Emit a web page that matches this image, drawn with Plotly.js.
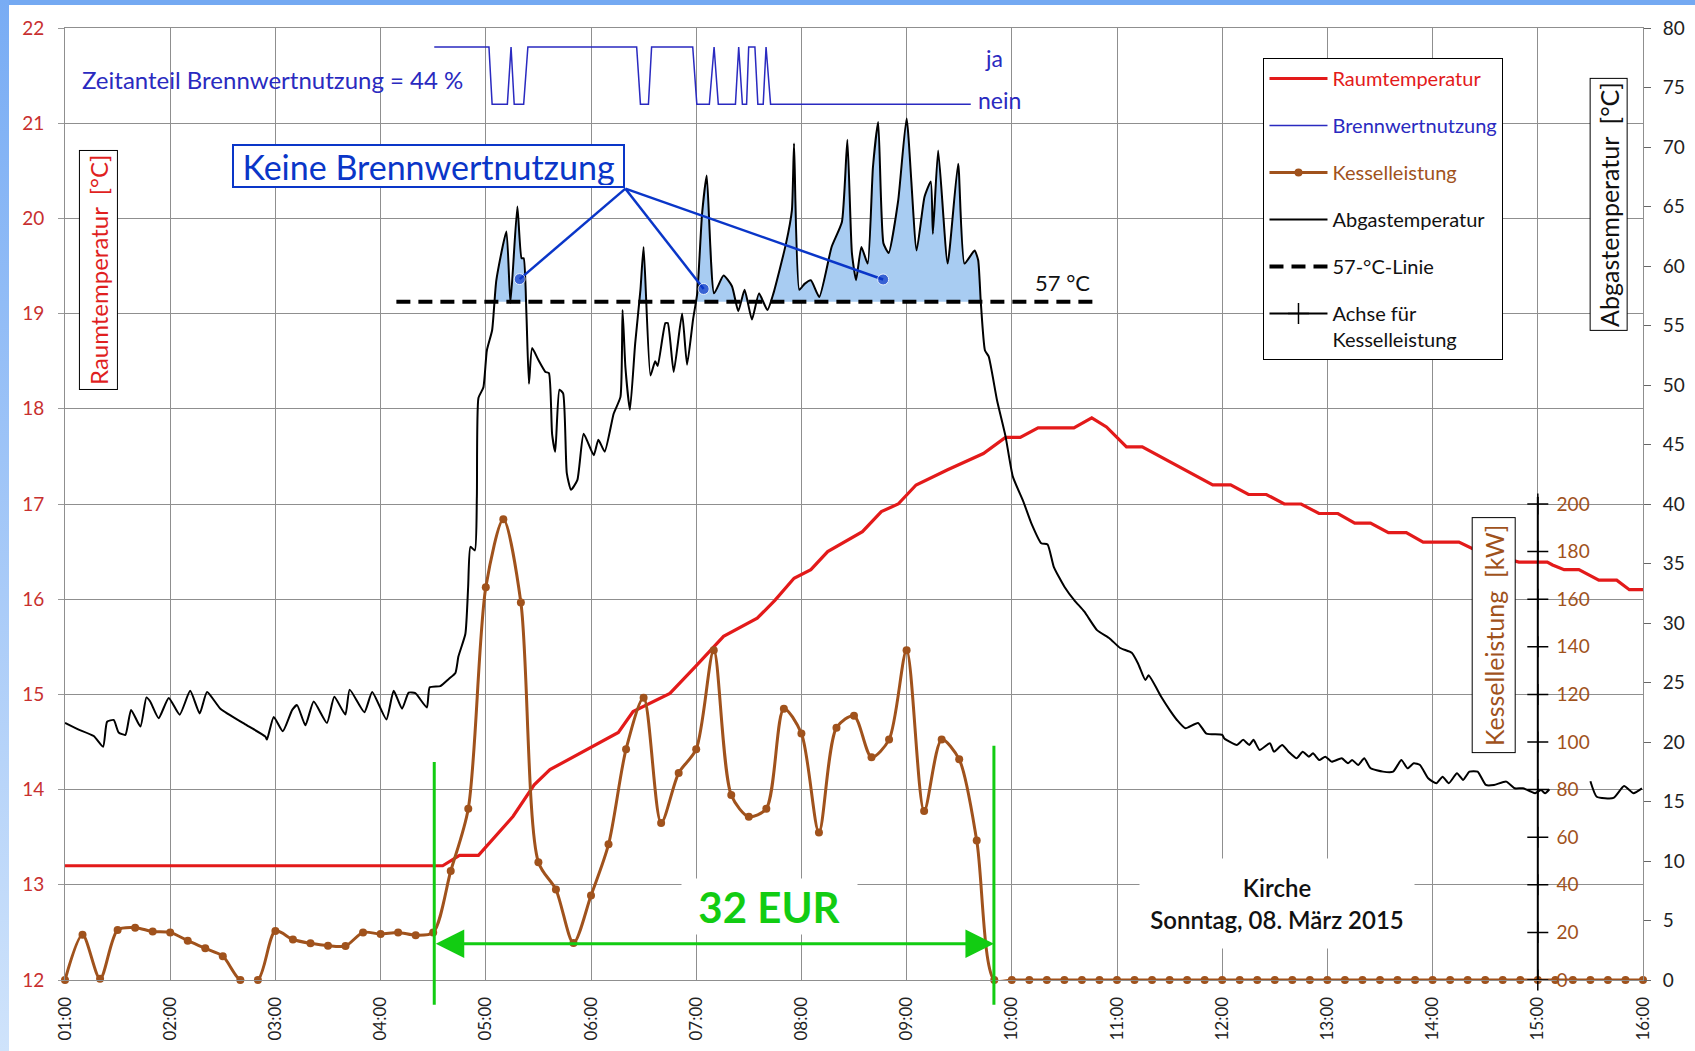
<!DOCTYPE html>
<html><head><meta charset="utf-8">
<script src="https://cdn.plot.ly/plotly-3.0.1.min.js"></script>
<style>
html,body{margin:0;padding:0;background:#fff;}
#frameTop{position:absolute;left:0;top:0;width:1695px;height:5px;background:#74a9f2;}
#frameLeft{position:absolute;left:0;top:0;width:9px;height:1051px;background:linear-gradient(#78acf4,#cfe3fb);}
#chart{position:absolute;left:0;top:0;width:1695px;height:1051px;}
</style></head><body>
<div id="frameTop"></div><div id="frameLeft"></div><div id="chart"></div>
<script>
// ---------------- data ----------------
const hourTicks = [1,2,3,4,5,6,7,8,9,10,11,12,13,14,15,16];
const hourLabels = ['01:00','02:00','03:00','04:00','05:00','06:00','07:00','08:00','09:00','10:00','11:00','12:00','13:00','14:00','15:00','16:00'];

// Raumtemperatur [°C] (left axis)
const raumHour = [1.0,4.59,4.75,4.93,5.26,5.46,5.61,6.26,6.40,6.75,6.99,7.26,7.58,7.75,7.93,8.09,8.25,8.58,8.76,8.92,9.09,9.39,9.73,9.94,10.08,10.25,10.59,10.76,10.90,11.09,11.24,11.91,12.08,12.25,12.42,12.59,12.75,12.92,13.10,13.26,13.41,13.58,13.75,13.91,14.25,14.42,14.82,15.09,15.14,15.25,15.39,15.58,15.75,15.87,16.0];
const raumTemp = [13.2,13.2,13.31,13.31,13.72,14.05,14.21,14.60,14.82,15.01,15.29,15.61,15.80,15.99,16.22,16.31,16.50,16.71,16.92,17.0,17.2,17.36,17.53,17.70,17.70,17.80,17.80,17.905,17.81,17.60,17.60,17.20,17.20,17.10,17.10,17.0,17.0,16.90,16.90,16.80,16.80,16.70,16.70,16.60,16.60,16.51,16.39,16.39,16.36,16.31,16.31,16.20,16.20,16.10,16.10];

// Brennwertnutzung (1 = ja, 0 = nein)
const bwHour  = [4.51,5.03,5.06,5.205,5.24,5.27,5.36,5.40,6.434,6.47,6.546,6.576,6.967,7.006,7.125,7.17,7.21,7.373,7.404,7.439,7.479,7.499,7.558,7.586,7.637,7.664,7.707,9.61];
const bwState = [1,1,0,0,1,0,0,1,1,0,0,1,1,0,0,1,0,0,1,0,0,1,1,0,0,1,0,0];

// Kesselleistung [kW], 10-minute values
const kesselTime = ['01:00','01:10','01:20','01:30','01:40','01:50','02:00','02:10','02:20','02:30','02:40','02:50','03:00','03:10','03:20','03:30','03:40','03:50','04:00','04:10','04:20','04:30','04:40','04:50','05:00','05:10','05:20','05:30','05:40','05:50','06:00','06:10','06:20','06:30','06:40','06:50','07:00','07:10','07:20','07:30','07:40','07:50','08:00','08:10','08:20','08:30','08:40','08:50','09:00','09:10','09:20','09:30','09:40','09:50','10:00','10:10','10:20','10:30','10:40','10:50','11:00','11:10','11:20','11:30','11:40','11:50','12:00','12:10','12:20','12:30','12:40','12:50','13:00','13:10','13:20','13:30','13:40','13:50','14:00','14:10','14:20','14:30','14:40','14:50','15:00','15:10','15:20','15:30','15:40','15:50','16:00'];
const kesselKW = [0,19,0.5,21,22,20.4,20,16.5,13.3,10,0,0,20.6,17,15.4,14.4,14.3,20,19.3,20,18.8,20,45.8,72,165,193.6,158.6,49.5,38,15.5,35.5,57,97,118.6,66,87,97,138.6,77.7,68.6,72,114,103.6,62,106,111,93.6,101,138.6,71,101,92.7,58.6,0,0,0,0,0,0,0,0,0,0,0,0,0,0,0,0,0,0,0,0,0,0,0,0,0,0,0,0,0,0,0,0,0,0,0,0,0,0];

// Abgastemperatur [°C] (right axis)
const abgHour = [1.000,1.115,1.273,1.362,1.400,1.463,1.510,1.574,1.628,1.717,1.774,1.810,1.890,1.986,2.090,2.190,2.280,2.350,2.477,2.730,2.905,2.920,2.984,3.070,3.160,3.206,3.285,3.364,3.490,3.560,3.665,3.706,3.846,3.920,4.055,4.124,4.204,4.267,4.330,4.440,4.467,4.568,4.648,4.711,4.740,4.806,4.832,4.854,4.896,4.915,4.930,4.977,5.010,5.060,5.100,5.196,5.234,5.300,5.340,5.360,5.386,5.410,5.440,5.500,5.567,5.600,5.630,5.660,5.700,5.735,5.770,5.810,5.870,5.930,6.026,6.070,6.130,6.216,6.280,6.300,6.327,6.370,6.420,6.470,6.500,6.565,6.610,6.634,6.707,6.730,6.786,6.866,6.913,6.970,7.010,7.056,7.100,7.170,7.260,7.340,7.400,7.460,7.530,7.597,7.677,7.734,7.854,7.910,7.930,7.980,8.030,8.090,8.170,8.287,8.385,8.437,8.480,8.520,8.570,8.630,8.680,8.730,8.780,8.830,8.920,9.000,9.095,9.170,9.230,9.250,9.300,9.390,9.490,9.550,9.646,9.680,9.705,9.745,9.780,9.860,9.940,10.010,10.110,10.185,10.280,10.340,10.400,10.500,10.595,10.690,10.810,10.930,11.030,11.140,11.200,11.270,11.300,11.420,11.500,11.570,11.650,11.770,11.850,12.000,12.020,12.140,12.199,12.258,12.297,12.356,12.453,12.492,12.570,12.630,12.708,12.765,12.824,12.863,12.922,12.980,13.040,13.137,13.196,13.235,13.293,13.350,13.411,13.528,13.625,13.703,13.762,13.821,13.880,13.958,14.036,14.095,14.154,14.232,14.290,14.350,14.428,14.506,14.584,14.700,14.780,14.858,14.936,14.975,15.030,15.070,15.110,15.300,15.500,15.560,15.720,15.820,15.910,15.990];
const abgTemp = [21.6,21.1,20.5,19.6,21.7,21.85,20.8,20.6,22.7,21.3,23.75,23.4,22.0,23.7,22.3,24.3,22.4,24.2,22.8,21.4,20.45,20.2,22.1,20.9,22.7,23.1,21.4,23.4,21.6,23.8,22.3,24.4,22.5,24.2,21.9,24.3,22.8,24.15,24.1,22.9,24.6,24.7,25.3,25.8,27.2,29.1,33.0,36.4,36.1,40.6,48.9,49.8,52.9,54.6,58.8,62.9,56.9,65.0,60.65,60.65,56.0,50.1,53.1,52.1,51.1,51.0,45.9,44.4,49.6,49.3,42.6,41.2,42.0,45.9,44.1,45.4,44.4,47.6,49.0,56.3,51.5,47.9,53.5,58.0,61.6,50.8,52.0,51.6,55.2,55.2,51.1,56.0,51.7,55.5,57.7,64.4,67.6,57.7,59.2,58.3,56.2,58.0,55.5,57.7,56.3,57.7,61.9,64.7,70.3,58.0,58.5,58.8,57.4,61.6,63.7,70.6,61.1,58.8,61.6,60.2,68.3,72.1,61.9,61.1,65.5,72.4,61.3,65.8,67.1,62.7,69.7,60.2,68.6,60.2,61.3,60.5,57.0,52.9,52.4,48.7,45.7,42.3,40.2,38.4,36.7,36.6,34.7,33.05,31.9,30.95,29.4,28.7,27.9,27.5,26.6,25.2,25.6,23.8,22.7,21.85,21.15,21.6,20.7,20.6,20.3,19.75,20.18,19.75,20.18,19.33,19.89,19.19,19.75,19.19,18.63,19.19,18.77,19.05,18.49,18.77,18.35,18.63,18.21,18.49,18.07,18.63,17.79,17.51,17.51,18.49,17.79,18.21,18.07,16.95,16.53,17.09,16.53,17.37,16.81,17.51,17.51,16.39,16.39,16.67,16.11,16.11,15.83,15.69,15.97,15.69,16.03,null,16.7,15.4,15.3,16.3,15.7,16.1];

// 57-°C-Linie
const limitTemp = 57;
const limitHour = [4.15, 10.84];

// Achse für Kesselleistung
const kAxisHour = 15;
const kAxisTicks = [0,20,40,60,80,100,120,140,160,180,200];
const kAxisTop = 203;

// Hinweis "Keine Brennwertnutzung": origin + three target points (Abgas axis)
const calloutHour = [6.327, 5.322, 7.071, 8.777];
const calloutTemp = [66.5, 58.9, 58.07, 58.87];

// Kosten-Zeitraum
const costStart = 4.51, costEnd = 9.83;
const costText = '32 EUR';

// ---------------- styling ----------------
const FONT = 'Lato, "Liberation Sans", sans-serif';
const RED = '#e31a1a', BROWN = '#a0521c', BLUE = '#2a2ac0', DBLUE = '#0a36c8', GREEN = '#12cc12';
const GRID = '#8f8f8f';

function toHour(s){ const p = s.split(':'); return +p[0] + (+p[1])/60; }
const kesselHour = kesselTime.map(toHour);

// fill region above 57 °C
const fx = [], fy = [];
let px = null, py = null;
for (let i = 0; i < abgHour.length; i++) {
  const x = abgHour[i], y = abgTemp[i];
  if (y === null || x < limitHour[0] || x > limitHour[1]) continue;
  if (px !== null && (py - limitTemp) * (y - limitTemp) < 0) {
    fx.push(px + (limitTemp - py) * (x - px) / (y - py)); fy.push(limitTemp);
  }
  fx.push(x); fy.push(Math.max(y, limitTemp));
  px = x; py = y;
}

// callout lines
const cX = [], cY = [], cS = [];
for (let i = 1; i < calloutHour.length; i++) {
  cX.push(calloutHour[0], calloutHour[i], null);
  cY.push(calloutTemp[0], calloutTemp[i], null);
  cS.push(0, 11, 0);
}

const traces = [
  {x: fx, y: fy, yaxis: 'y2', mode: 'lines', fill: 'toself', fillcolor: 'rgb(168,204,242)',
   line: {width: 0, color: 'rgba(0,0,0,0)'}, showlegend: false, hoverinfo: 'skip'},
  {x: raumHour, y: raumTemp, yaxis: 'y', mode: 'lines', name: '<span style="color:' + RED + '">Raumtemperatur</span>',
   line: {color: RED, width: 3.2}, legendrank: 1, legendgroup: 'g1'},
  {x: bwHour, y: bwState, yaxis: 'y4', mode: 'lines', name: '<span style="color:' + BLUE + '">Brennwertnutzung</span>',
   line: {color: BLUE, width: 1.5}, legendrank: 2, legendgroup: 'g2'},
  {x: kesselHour, y: kesselKW, yaxis: 'y3', mode: 'lines+markers', name: '<span style="color:' + BROWN + '">Kesselleistung</span>',
   line: {color: BROWN, width: 3, shape: 'spline', smoothing: 0.8}, marker: {color: BROWN, size: 8}, cliponaxis: false,
   legendrank: 3, legendgroup: 'g3'},
  {x: abgHour, y: abgTemp, yaxis: 'y2', mode: 'lines', name: 'Abgastemperatur',
   line: {color: '#000', width: 2, shape: 'spline', smoothing: 0.5}, connectgaps: false, legendrank: 4, legendgroup: 'g4'},
  {x: limitHour, y: [limitTemp, limitTemp], yaxis: 'y2', mode: 'lines', name: '57-°C-Linie',
   line: {color: '#000', width: 4, dash: '14px,8px'}, legendrank: 5, legendgroup: 'g5'},
  {x: cX, y: cY, yaxis: 'y2', mode: 'lines+markers', line: {color: DBLUE, width: 2.5},
   marker: {color: DBLUE, size: cS}, showlegend: false, hoverinfo: 'skip'},
  {x: kAxisTicks.map(() => kAxisHour), y: kAxisTicks, yaxis: 'y3', mode: 'lines+markers', name: 'Achse für<br>Kesselleistung',
   line: {color: '#000', width: 2}, marker: {symbol: 'cross-thin-open', size: 15, color: '#000', line: {color: '#000', width: 1.5}},
   cliponaxis: false, legendrank: 6, legendgroup: 'g6'},
  {x: [kAxisHour, kAxisHour], y: [kAxisTicks[kAxisTicks.length - 1], kAxisTop], yaxis: 'y3', mode: 'lines',
   line: {color: '#000', width: 2}, showlegend: false, hoverinfo: 'skip'}
];

const frac = h => (h - 1) / 15;

const layout = {
  width: 1695, height: 1051,
  margin: {l: 65, r: 52, t: 28, b: 71},
  paper_bgcolor: 'rgba(0,0,0,0)', plot_bgcolor: '#fff',
  font: {family: FONT, size: 17, color: '#111'},
  showlegend: true,
  legend: {x: 0.7595, xanchor: 'left', y: 0.9685, yanchor: 'top', bgcolor: '#fff', bordercolor: '#000', borderwidth: 1,
           font: {family: FONT, size: 20, color: '#111'}, itemwidth: 58, traceorder: 'grouped', tracegroupgap: 18, valign: 'top'},
  xaxis: {range: [1, 16], tickvals: hourTicks, ticktext: hourLabels, tickangle: -90, showgrid: true, gridcolor: GRID, gridwidth: 1,
          zeroline: false, showline: true, mirror: true, linecolor: GRID, ticks: '', ticklabelstandoff: 9,
          tickfont: {size: 17, color: '#222'}},
  yaxis: {range: [12, 22], dtick: 1, tick0: 12, showgrid: true, gridcolor: GRID, zeroline: false, showline: true, mirror: true, linecolor: GRID,
          ticks: 'outside', ticklen: 6, tickcolor: '#999', ticklabelstandoff: 10, tickfont: {size: 19, color: '#c8302f'}},
  yaxis2: {overlaying: 'y', side: 'right', range: [0, 80], dtick: 5, tick0: 0, showgrid: false, zeroline: false, showline: false,
           ticks: 'outside', ticklen: 7, tickcolor: '#666', ticklabelstandoff: 8, tickfont: {size: 19, color: '#222'}},
  yaxis3: {overlaying: 'y', anchor: 'free', position: frac(kAxisHour), side: 'right', range: [0, 400], tickvals: kAxisTicks,
           showgrid: false, zeroline: false, showline: false, ticks: 'outside', ticklen: 14, tickcolor: 'rgba(0,0,0,0)',
           tickfont: {size: 19, color: BROWN}},
  yaxis4: {overlaying: 'y', range: [-15.333, 1.333], visible: false},
  shapes: [
    {type: 'line', xref: 'paper', yref: 'paper', x0: frac(costStart), x1: frac(costStart), y0: -0.026, y1: 0.229, line: {color: GREEN, width: 3}},
    {type: 'line', xref: 'paper', yref: 'paper', x0: frac(costEnd), x1: frac(costEnd), y0: -0.026, y1: 0.246, line: {color: GREEN, width: 3}}
  ],
  annotations: [
    {xref: 'x', yref: 'y', x: costEnd, y: 12.38, axref: 'x', ayref: 'y', ax: costStart, ay: 12.38, text: '', showarrow: true,
     arrowside: 'end+start', arrowhead: 2, arrowsize: 1.9, arrowwidth: 3, arrowcolor: GREEN},
    {xref: 'x', yref: 'y', x: 7.70, y: 12.767, xanchor: 'center', yanchor: 'middle', text: '<b>' + costText + '</b>', showarrow: false, bgcolor: '#fff',
     width: 173, height: 53, font: {family: FONT, size: 42, color: GREEN}},
    {xref: 'x', yref: 'y', x: 12.525, y: 12.80, xanchor: 'center', yanchor: 'middle', text: 'Kirche<br>Sonntag, 08. März 2015', showarrow: false, bgcolor: '#fff',
     width: 272, height: 87, font: {family: FONT, size: 24, color: '#111', weight: 600}},
    {xref: 'paper', yref: 'paper', x: 0.0212, y: 0.7463, xanchor: 'center', yanchor: 'middle', text: 'Raumtemperatur\u00a0\u00a0[°C]', textangle: -90, showarrow: false,
     bgcolor: '#fff', bordercolor: '#000', borderwidth: 1, borderpad: 4, font: {family: FONT, size: 24, color: '#e01f1f'}},
    {xref: 'paper', yref: 'paper', x: 0.9783, y: 0.815, xanchor: 'center', yanchor: 'middle', text: 'Abgastemperatur\u00a0\u00a0[°C]', textangle: -90, showarrow: false,
     bgcolor: '#fff', bordercolor: '#000', borderwidth: 1, borderpad: 3, font: {family: FONT, size: 25, color: '#111'}},
    {xref: 'paper', yref: 'paper', x: 0.9052, y: 0.3627, xanchor: 'center', yanchor: 'middle', text: 'Kesselleistung\u00a0\u00a0[kW]', textangle: -90, showarrow: false,
     bgcolor: '#fff', bordercolor: '#000', borderwidth: 1, borderpad: 6, font: {family: FONT, size: 25, color: BROWN}},
    {xref: 'x', yref: 'paper', x: 4.459, y: 0.855, xanchor: 'center', yanchor: 'middle', text: 'Keine Brennwertnutzung', showarrow: false,
     bgcolor: '#fff', bordercolor: DBLUE, borderwidth: 2, borderpad: 1, width: 387, height: 38, font: {family: FONT, size: 34, color: DBLUE}},
    {xref: 'paper', yref: 'paper', x: 0.00925, y: 0.9464, xanchor: 'left', yanchor: 'middle', text: 'Zeitanteil Brennwertnutzung = 44 %', showarrow: false,
     font: {family: FONT, size: 24, color: BLUE}},
    {xref: 'x', yref: 'paper', x: 9.725, y: 0.9685, xanchor: 'left', yanchor: 'middle', text: 'ja', showarrow: false, font: {family: FONT, size: 23, color: BLUE}},
    {xref: 'x', yref: 'paper', x: 9.658, y: 0.924, xanchor: 'left', yanchor: 'middle', text: 'nein', showarrow: false, font: {family: FONT, size: 23, color: BLUE}},
    {xref: 'x', yref: 'y2', x: 10.48, y: 58.6, xanchor: 'center', yanchor: 'middle', text: '57 °C', showarrow: false, font: {family: FONT, size: 22, color: '#111'}}
  ]
};

Plotly.newPlot('chart', traces, layout, {displayModeBar: false, staticPlot: true});
</script>
</body></html>
